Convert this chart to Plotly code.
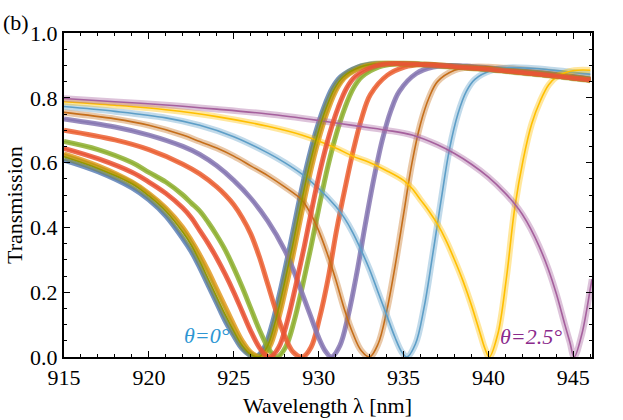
import plotly.graph_objects as go

# ---------------- data ----------------
names = ["c1", "c2", "c3", "c4", "c5", "c6", "c7", "c8", "c9", "c10", "c11"]
colors = ["#5E81B5", "#E19C24", "#8FB032", "#EB6235", "#8778B3", "#C56E1A",
          "#5D9EC7", "#FFBF00", "#A5609D", "#929600", "#E95536"]
filled = [True, True, True, True, True, False, False, False, False, False, True]

lam_c1 = [915, 917, 919, 920, 921, 922, 922.5, 923, 923.5, 924, 924.5, 925, 925.5, 926, 926.3,
          926.8, 927.3, 927.8, 928.3, 928.8, 929.3, 929.8, 930.3, 930.8, 931.3, 932.3, 933.3,
          935, 937, 940, 943, 946]
T_c1 = [0.608, 0.572, 0.522, 0.485, 0.435, 0.365, 0.325, 0.275, 0.22, 0.165, 0.11, 0.065, 0.025, 0.004, 0.0,
        0.03, 0.11, 0.22, 0.34, 0.47, 0.59, 0.69, 0.77, 0.83, 0.865, 0.895, 0.905,
        0.905, 0.9, 0.888, 0.873, 0.855]

lam_c10 = [915, 917, 919, 920, 921, 922, 922.5, 923, 923.5, 924, 924.5, 925, 925.5, 926, 926.45,
           926.95, 927.45, 927.95, 928.45, 928.95, 929.45, 929.95, 930.45, 930.95, 931.45, 932.45, 933.45,
           935, 937, 940, 943, 946]
T_c10 = [0.618, 0.582, 0.535, 0.497, 0.45, 0.385, 0.345, 0.295, 0.24, 0.185, 0.13, 0.08, 0.035, 0.008, 0.0,
         0.03, 0.11, 0.22, 0.34, 0.47, 0.59, 0.69, 0.77, 0.83, 0.865, 0.895, 0.905,
         0.905, 0.9, 0.888, 0.873, 0.855]

lam_c2 = [915, 917, 919, 920, 921, 922, 922.5, 923, 923.5, 924, 924.5, 925, 925.5, 926, 926.6,
          927.1, 927.6, 928.1, 928.6, 929.1, 929.6, 930.1, 930.6, 931.1, 931.6, 932.6, 933.6,
          935, 937, 940, 943, 946]
T_c2 = [0.627, 0.59, 0.54, 0.505, 0.46, 0.4, 0.36, 0.315, 0.265, 0.21, 0.155, 0.1, 0.05, 0.015, 0.0,
        0.03, 0.11, 0.22, 0.34, 0.47, 0.59, 0.69, 0.77, 0.83, 0.865, 0.895, 0.905,
        0.905, 0.9, 0.888, 0.873, 0.855]

lam_c11 = [915, 917, 919, 920, 921, 922, 922.5, 923, 923.5, 924, 924.5, 925, 925.5, 926, 926.5, 926.9, 927.15,
           927.65, 928.15, 928.65, 929.15, 929.65, 930.15, 930.65, 931.15, 931.65, 932.15, 933.15, 934.15,
           936, 938, 940, 943, 946]
T_c11 = [0.644, 0.612, 0.57, 0.54, 0.505, 0.46, 0.43, 0.39, 0.35, 0.305, 0.255, 0.2, 0.14, 0.08, 0.03, 0.005, 0.0,
         0.03, 0.11, 0.22, 0.34, 0.47, 0.59, 0.69, 0.77, 0.83, 0.865, 0.895, 0.905,
         0.903, 0.896, 0.888, 0.873, 0.855]

lam_c3 = [915, 917, 919, 920, 921, 922, 922.5, 923, 923.5, 924, 924.5, 925, 925.5, 926, 926.5, 927, 927.3, 927.55,
          928.05, 928.55, 929.05, 929.55, 930.05, 930.55, 931.05, 931.55, 932.05, 932.55, 933.55, 934.55,
          936, 938, 940, 943, 946]
T_c3 = [0.665, 0.64, 0.6, 0.57, 0.54, 0.5, 0.475, 0.45, 0.415, 0.375, 0.33, 0.275, 0.215, 0.15, 0.085, 0.03, 0.008, 0.0,
        0.03, 0.11, 0.22, 0.34, 0.47, 0.59, 0.69, 0.77, 0.83, 0.865, 0.895, 0.905,
        0.903, 0.896, 0.888, 0.873, 0.855]

lam_c4 = [915, 918, 920, 922, 923, 924, 924.5, 925, 925.5, 926, 926.5, 927, 927.5, 928, 928.5, 929.05,
          929.55, 930.05, 930.55, 931.05, 931.55, 932.05, 932.55, 933.05, 934.05, 935.05, 936.05,
          938, 940, 943, 946]
T_c4 = [0.70, 0.67, 0.64, 0.595, 0.565, 0.525, 0.5, 0.47, 0.43, 0.38, 0.31, 0.225, 0.14, 0.065, 0.015, 0.0,
        0.03, 0.12, 0.24, 0.39, 0.52, 0.64, 0.74, 0.81, 0.87, 0.895, 0.903,
        0.898, 0.889, 0.874, 0.856]

lam_c5 = [915, 918, 920, 922, 923, 924, 925, 926, 927, 928, 928.5, 929, 929.5, 930, 930.4, 930.75,
          931.25, 931.75, 932.25, 932.75, 933.25, 933.75, 934.25, 934.75, 935.75, 936.75, 937.75,
          939, 941, 943, 946]
T_c5 = [0.735, 0.71, 0.685, 0.65, 0.625, 0.59, 0.545, 0.49, 0.42, 0.33, 0.27, 0.2, 0.13, 0.06, 0.018, 0.0,
        0.035, 0.13, 0.26, 0.41, 0.55, 0.67, 0.76, 0.82, 0.875, 0.895, 0.9,
        0.897, 0.888, 0.877, 0.857]

lam_c6 = [915, 918, 920, 922, 923, 924, 925, 926, 927, 928, 929, 929.5, 930, 930.5, 931, 931.5, 932, 932.5, 933,
          933.5, 934, 934.5, 935, 935.5, 936, 936.5, 937, 938, 939, 940, 942, 944, 946]
T_c6 = [0.755, 0.735, 0.715, 0.685, 0.665, 0.645, 0.62, 0.59, 0.56, 0.525, 0.485, 0.445, 0.39, 0.32, 0.24, 0.15, 0.075, 0.02, 0.0,
        0.04, 0.14, 0.28, 0.44, 0.6, 0.72, 0.8, 0.85, 0.885, 0.895, 0.895, 0.887, 0.877, 0.863]

lam_c7 = [915, 918, 921, 923, 925, 927, 928, 929, 930, 931, 931.5, 932, 932.5, 933, 933.5, 934, 934.5, 934.9, 935.2,
          935.7, 936.2, 936.7, 937.2, 937.7, 938.2, 938.7, 939.2, 940.2, 941.2, 942.5, 944, 946]
T_c7 = [0.773, 0.758, 0.738, 0.715, 0.68, 0.63, 0.6, 0.565, 0.52, 0.465, 0.43, 0.385, 0.33, 0.27, 0.2, 0.13, 0.06, 0.015, 0.0,
        0.04, 0.15, 0.31, 0.48, 0.64, 0.75, 0.82, 0.857, 0.885, 0.893, 0.891, 0.884, 0.873]

lam_c8 = [915, 918, 921, 924, 927, 929, 931, 932, 933, 934, 935, 935.5, 936, 936.5, 937, 937.5, 938, 938.5, 939, 939.5,
          939.8, 940.05, 940.55, 941.05, 941.55, 942.05, 942.55, 943.05, 943.55, 944.05, 944.55, 945.05, 945.55, 946]
T_c8 = [0.788, 0.777, 0.763, 0.742, 0.712, 0.685, 0.645, 0.62, 0.6, 0.575, 0.545, 0.52, 0.485, 0.45, 0.41, 0.36, 0.3, 0.235, 0.16, 0.075,
        0.025, 0.0, 0.07, 0.24, 0.46, 0.61, 0.72, 0.79, 0.84, 0.866, 0.878, 0.884, 0.886, 0.885]

lam_c9 = [915, 918, 921, 924, 927, 930, 932, 934, 935.5, 937, 938, 939, 940, 941, 941.5, 942, 942.5, 943, 943.5, 944,
          944.5, 944.8, 945.05, 945.5, 946, 946.1]
T_c9 = [0.798, 0.788, 0.778, 0.765, 0.75, 0.73, 0.715, 0.7, 0.685, 0.655, 0.628, 0.595, 0.555, 0.505, 0.475, 0.44, 0.395, 0.34, 0.275, 0.195,
        0.1, 0.045, 0.0, 0.07, 0.21, 0.24]

lams = [lam_c1, lam_c2, lam_c3, lam_c4, lam_c5, lam_c6, lam_c7, lam_c8, lam_c9, lam_c10, lam_c11]
Ts = [T_c1, T_c2, T_c3, T_c4, T_c5, T_c6, T_c7, T_c8, T_c9, T_c10, T_c11]

x_ticks = [915, 920, 925, 930, 935, 940, 945]
y_ticks = [0.0, 0.2, 0.4, 0.6, 0.8, 1.0]

label_left = "θ=0°"
label_right = "θ=2.5°"
x_title = "Wavelength λ [nm]"
y_title = "Transmission"

# ---------------- figure ----------------
def rgba(hexc, a):
    h = hexc.lstrip("#")
    r, g, b = int(h[0:2], 16), int(h[2:4], 16), int(h[4:6], 16)
    return f"rgba({r},{g},{b},{a})"

fig = go.Figure()
for lam, T, c, f in zip(lams, Ts, colors, filled):
    fig.add_trace(go.Scatter(
        x=lam, y=T, mode="lines",
        line=dict(color=rgba(c, 0.85 if f else 0.38), width=5 if f else 6.5,
                  shape="spline", smoothing=1.0),
        hoverinfo="skip", showlegend=False))
    fig.add_trace(go.Scatter(
        x=lam, y=T, mode="lines",
        line=dict(color=c, width=1.6, shape="spline", smoothing=1.0),
        showlegend=False))

font_family = "Liberation Serif, Times New Roman, DejaVu Serif, serif"

W, H = 623, 420
L, R, TOP, B = 64, 31, 33, 63
pw, ph = W - L - R, H - TOP - B

def px(xpix):
    return (xpix - L) / pw

def py(ypix):
    return (H - B - ypix) / ph

axis_common = dict(
    showline=True, linewidth=2, linecolor="black", mirror="ticks",
    ticks="inside", ticklen=6, tickwidth=1.4, tickcolor="black",
    showgrid=False, zeroline=False,
    tickfont=dict(family=font_family, size=22, color="black"),
)

fig.update_layout(
    width=W, height=H,
    margin=dict(l=L, r=R, t=TOP, b=B),
    paper_bgcolor="white", plot_bgcolor="white",
    font=dict(family=font_family),
    xaxis=dict(range=[915, 946.1], tickvals=x_ticks,
               minor=dict(dtick=1, ticks="inside", ticklen=3, tickwidth=1.2, tickcolor="black"),
               **axis_common),
    yaxis=dict(range=[0, 1.0], tickvals=y_ticks, tickformat=".1f",
               minor=dict(dtick=0.05, ticks="inside", ticklen=3, tickwidth=1.2, tickcolor="black"),
               **axis_common),
    annotations=[
        dict(x=923.4, y=0.065, xref="x", yref="y", text=f"<i>{label_left}</i>", showarrow=False,
             font=dict(family=font_family, size=22, color="#2E96D3")),
        dict(x=942.5, y=0.062, xref="x", yref="y", text=f"<i>{label_right}</i>", showarrow=False,
             font=dict(family=font_family, size=22, color="#8B2A8C")),
        dict(x=px(1), y=py(22), xref="paper", yref="paper", text="(b)", showarrow=False,
             xanchor="left", yanchor="middle", font=dict(family=font_family, size=22, color="black")),
        dict(x=px(14), y=py(205), xref="paper", yref="paper", text=y_title, showarrow=False,
             textangle=-90, xanchor="center", yanchor="middle",
             font=dict(family=font_family, size=22, color="black")),
        dict(x=px(327), y=py(405), xref="paper", yref="paper", text=x_title, showarrow=False,
             xanchor="center", yanchor="middle",
             font=dict(family=font_family, size=22, color="black")),
    ],
)

fig.write_html("out.html",
               config={"displayModeBar": False},
               post_script="document.body.style.margin='0px';document.body.style.padding='0px';")
